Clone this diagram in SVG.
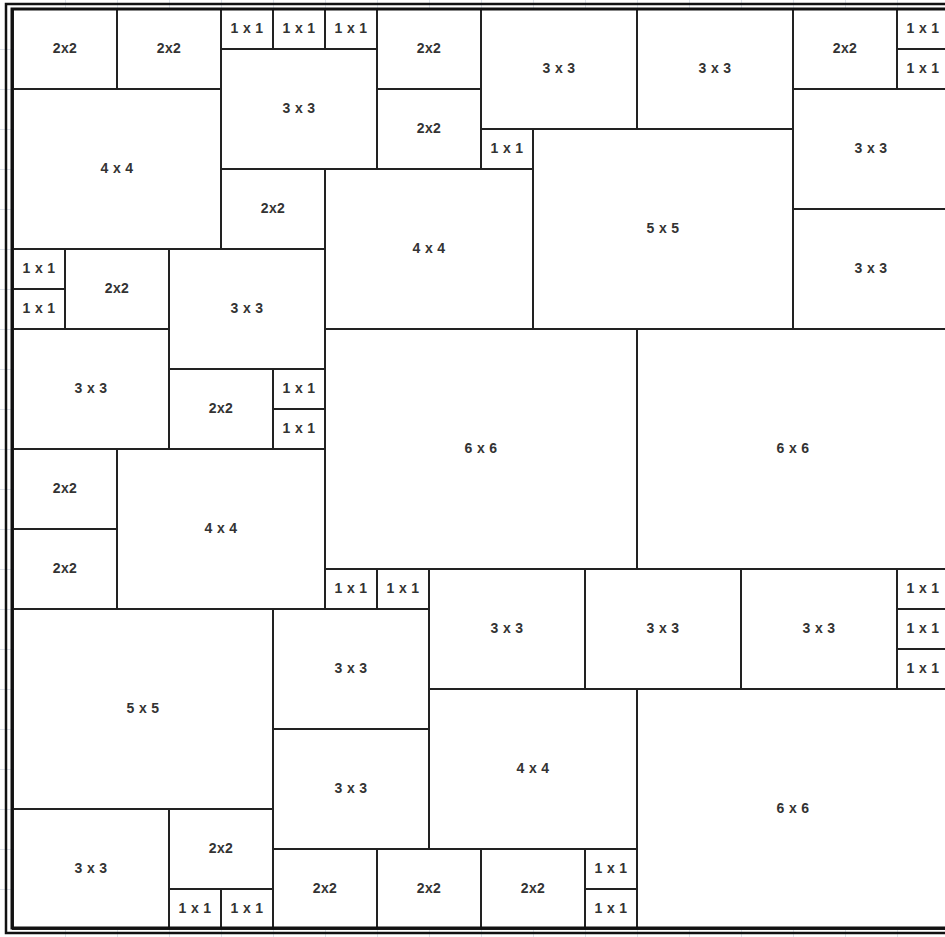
<svg xmlns="http://www.w3.org/2000/svg" width="945" height="937" viewBox="0 0 945 937">
<style>
.t rect{fill:#fff;stroke:#222;stroke-width:2}
.t text{font-family:"Liberation Sans",Arial,sans-serif;font-size:14px;font-weight:bold;fill:#333;text-anchor:middle;letter-spacing:0.4px}
.g line{stroke:#dde2ea;stroke-width:1}
</style>
<rect x="0" y="0" width="945" height="937" fill="#fff"/>
<g class="g" id="gridlines">
<line x1="65.5" y1="0" x2="65.5" y2="937"/><line x1="117.5" y1="0" x2="117.5" y2="937"/><line x1="169.5" y1="0" x2="169.5" y2="937"/><line x1="221.5" y1="0" x2="221.5" y2="937"/><line x1="273.5" y1="0" x2="273.5" y2="937"/><line x1="325.5" y1="0" x2="325.5" y2="937"/><line x1="377.5" y1="0" x2="377.5" y2="937"/><line x1="429.5" y1="0" x2="429.5" y2="937"/><line x1="481.5" y1="0" x2="481.5" y2="937"/><line x1="533.5" y1="0" x2="533.5" y2="937"/><line x1="585.5" y1="0" x2="585.5" y2="937"/><line x1="637.5" y1="0" x2="637.5" y2="937"/><line x1="689.5" y1="0" x2="689.5" y2="937"/><line x1="741.5" y1="0" x2="741.5" y2="937"/><line x1="793.5" y1="0" x2="793.5" y2="937"/><line x1="845.5" y1="0" x2="845.5" y2="937"/><line x1="897.5" y1="0" x2="897.5" y2="937"/>
<line x1="0" y1="49.5" x2="945" y2="49.5"/><line x1="0" y1="89.5" x2="945" y2="89.5"/><line x1="0" y1="129.5" x2="945" y2="129.5"/><line x1="0" y1="169.5" x2="945" y2="169.5"/><line x1="0" y1="209.5" x2="945" y2="209.5"/><line x1="0" y1="249.5" x2="945" y2="249.5"/><line x1="0" y1="289.5" x2="945" y2="289.5"/><line x1="0" y1="329.5" x2="945" y2="329.5"/><line x1="0" y1="369.5" x2="945" y2="369.5"/><line x1="0" y1="409.5" x2="945" y2="409.5"/><line x1="0" y1="449.5" x2="945" y2="449.5"/><line x1="0" y1="489.5" x2="945" y2="489.5"/><line x1="0" y1="529.5" x2="945" y2="529.5"/><line x1="0" y1="569.5" x2="945" y2="569.5"/><line x1="0" y1="609.5" x2="945" y2="609.5"/><line x1="0" y1="649.5" x2="945" y2="649.5"/><line x1="0" y1="689.5" x2="945" y2="689.5"/><line x1="0" y1="729.5" x2="945" y2="729.5"/><line x1="0" y1="769.5" x2="945" y2="769.5"/><line x1="0" y1="809.5" x2="945" y2="809.5"/><line x1="0" y1="849.5" x2="945" y2="849.5"/><line x1="0" y1="889.5" x2="945" y2="889.5"/>
</g>
<g class="t" id="tiles">
<g id="n1"><rect x="13" y="9" width="104" height="80"/><text x="65" y="53">2x2</text></g>
<g id="n2"><rect x="117" y="9" width="104" height="80"/><text x="169" y="53">2x2</text></g>
<g id="n3"><rect x="221" y="9" width="52" height="40"/><text x="247" y="33">1 x 1</text></g>
<g id="n4"><rect x="273" y="9" width="52" height="40"/><text x="299" y="33">1 x 1</text></g>
<g id="n5"><rect x="325" y="9" width="52" height="40"/><text x="351" y="33">1 x 1</text></g>
<g id="n6"><rect x="221" y="49" width="156" height="120"/><text x="299" y="113">3 x 3</text></g>
<g id="n7"><rect x="377" y="9" width="104" height="80"/><text x="429" y="53">2x2</text></g>
<g id="n8"><rect x="481" y="9" width="156" height="120"/><text x="559" y="73">3 x 3</text></g>
<g id="n9"><rect x="637" y="9" width="156" height="120"/><text x="715" y="73">3 x 3</text></g>
<g id="n10"><rect x="793" y="9" width="104" height="80"/><text x="845" y="53">2x2</text></g>
<g id="n11"><rect x="897" y="9" width="52" height="40"/><text x="923" y="33">1 x 1</text></g>
<g id="n12"><rect x="897" y="49" width="52" height="40"/><text x="923" y="73">1 x 1</text></g>
<g id="n13"><rect x="13" y="89" width="208" height="160"/><text x="117" y="173">4 x 4</text></g>
<g id="n14"><rect x="377" y="89" width="104" height="80"/><text x="429" y="133">2x2</text></g>
<g id="n15"><rect x="481" y="129" width="52" height="40"/><text x="507" y="153">1 x 1</text></g>
<g id="n16"><rect x="533" y="129" width="260" height="200"/><text x="663" y="233">5 x 5</text></g>
<g id="n17"><rect x="793" y="89" width="156" height="120"/><text x="871" y="153">3 x 3</text></g>
<g id="n18"><rect x="793" y="209" width="156" height="120"/><text x="871" y="273">3 x 3</text></g>
<g id="n19"><rect x="221" y="169" width="104" height="80"/><text x="273" y="213">2x2</text></g>
<g id="n20"><rect x="325" y="169" width="208" height="160"/><text x="429" y="253">4 x 4</text></g>
<g id="n21"><rect x="13" y="249" width="52" height="40"/><text x="39" y="273">1 x 1</text></g>
<g id="n22"><rect x="13" y="289" width="52" height="40"/><text x="39" y="313">1 x 1</text></g>
<g id="n23"><rect x="65" y="249" width="104" height="80"/><text x="117" y="293">2x2</text></g>
<g id="n24"><rect x="169" y="249" width="156" height="120"/><text x="247" y="313">3 x 3</text></g>
<g id="n25"><rect x="13" y="329" width="156" height="120"/><text x="91" y="393">3 x 3</text></g>
<g id="n26"><rect x="169" y="369" width="104" height="80"/><text x="221" y="413">2x2</text></g>
<g id="n27"><rect x="273" y="369" width="52" height="40"/><text x="299" y="393">1 x 1</text></g>
<g id="n28"><rect x="273" y="409" width="52" height="40"/><text x="299" y="433">1 x 1</text></g>
<g id="n29"><rect x="325" y="329" width="312" height="240"/><text x="481" y="453">6 x 6</text></g>
<g id="n30"><rect x="637" y="329" width="312" height="240"/><text x="793" y="453">6 x 6</text></g>
<g id="n31"><rect x="13" y="449" width="104" height="80"/><text x="65" y="493">2x2</text></g>
<g id="n32"><rect x="13" y="529" width="104" height="80"/><text x="65" y="573">2x2</text></g>
<g id="n33"><rect x="117" y="449" width="208" height="160"/><text x="221" y="533">4 x 4</text></g>
<g id="n34"><rect x="325" y="569" width="52" height="40"/><text x="351" y="593">1 x 1</text></g>
<g id="n35"><rect x="377" y="569" width="52" height="40"/><text x="403" y="593">1 x 1</text></g>
<g id="n36"><rect x="429" y="569" width="156" height="120"/><text x="507" y="633">3 x 3</text></g>
<g id="n37"><rect x="585" y="569" width="156" height="120"/><text x="663" y="633">3 x 3</text></g>
<g id="n38"><rect x="741" y="569" width="156" height="120"/><text x="819" y="633">3 x 3</text></g>
<g id="n39"><rect x="897" y="569" width="52" height="40"/><text x="923" y="593">1 x 1</text></g>
<g id="n40"><rect x="897" y="609" width="52" height="40"/><text x="923" y="633">1 x 1</text></g>
<g id="n41"><rect x="897" y="649" width="52" height="40"/><text x="923" y="673">1 x 1</text></g>
<g id="n42"><rect x="13" y="609" width="260" height="200"/><text x="143" y="713">5 x 5</text></g>
<g id="n43"><rect x="273" y="609" width="156" height="120"/><text x="351" y="673">3 x 3</text></g>
<g id="n44"><rect x="273" y="729" width="156" height="120"/><text x="351" y="793">3 x 3</text></g>
<g id="n45"><rect x="429" y="689" width="208" height="160"/><text x="533" y="773">4 x 4</text></g>
<g id="n46"><rect x="637" y="689" width="312" height="240"/><text x="793" y="813">6 x 6</text></g>
<g id="n47"><rect x="13" y="809" width="156" height="120"/><text x="91" y="873">3 x 3</text></g>
<g id="n48"><rect x="169" y="809" width="104" height="80"/><text x="221" y="853">2x2</text></g>
<g id="n49"><rect x="169" y="889" width="52" height="40"/><text x="195" y="913">1 x 1</text></g>
<g id="n50"><rect x="221" y="889" width="52" height="40"/><text x="247" y="913">1 x 1</text></g>
<g id="n51"><rect x="273" y="849" width="104" height="80"/><text x="325" y="893">2x2</text></g>
<g id="n52"><rect x="377" y="849" width="104" height="80"/><text x="429" y="893">2x2</text></g>
<g id="n53"><rect x="481" y="849" width="104" height="80"/><text x="533" y="893">2x2</text></g>
<g id="n54"><rect x="585" y="849" width="52" height="40"/><text x="611" y="873">1 x 1</text></g>
<g id="n55"><rect x="585" y="889" width="52" height="40"/><text x="611" y="913">1 x 1</text></g>
</g>
<g id="frame" fill="none" stroke="#111">
<path d="M945 9 H12 V928 H945" stroke-width="3"/>
<path d="M945 4 H6 V933 H945" stroke-width="2.5"/>
</g>
</svg>
